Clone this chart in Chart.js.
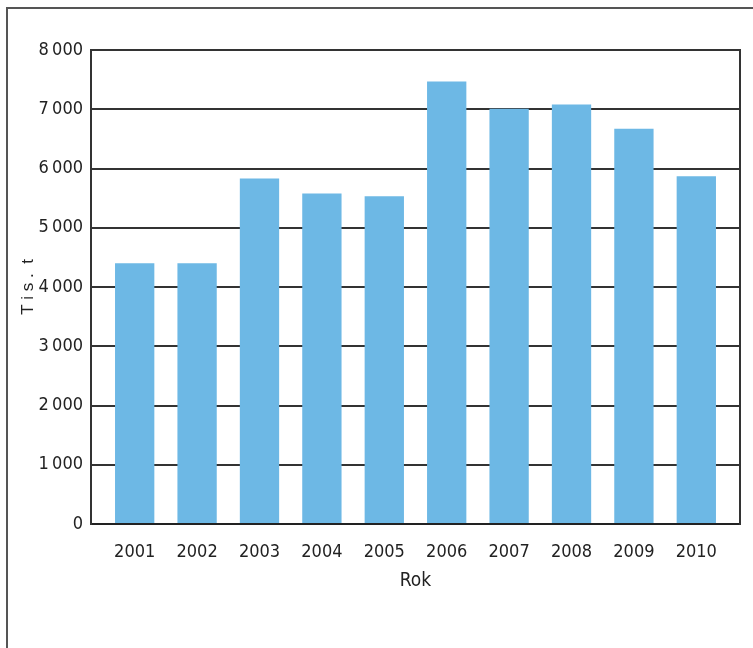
<!DOCTYPE html>
<html>
<head>
<meta charset="utf-8">
<script src="https://cdn.jsdelivr.net/npm/chart.js@4"></script>
<style>
    body { margin: 0; background: #fff; }
    #wrap { position: relative; width: 753px; height: 648px; overflow: hidden; }
    #frame {
        position: absolute; left: 6px; top: 7px; width: 760px; height: 700px;
        border-left: 2px solid #555; border-top: 2px solid #555;
        pointer-events: none;
    }
</style>
</head>
<body>
<div id="wrap">
    <canvas id="chart" width="753" height="648"></canvas>
    <div id="frame"></div>
</div>
<script>
const years = ['2001', '2002', '2003', '2004', '2005', '2006', '2007', '2008', '2009', '2010'];
const tonnes = [4400, 4400, 5830, 5580, 5530, 7470, 7010, 7080, 6670, 5870];
const yTicks = [0, 1000, 2000, 3000, 4000, 5000, 6000, 7000, 8000];

const font = "'Liberation Sans Narrow', 'Noto Sans Condensed', 'DejaVu Sans Condensed', sans-serif";
const ink = '#222';

function fmt(v) {
    return String(v).replace(/\B(?=(\d{3})+(?!\d))/g, '\u2009');
}

new Chart(document.getElementById('chart'), {
    type: 'bar',
    data: {
        datasets: [{
            label: 'Tis. t',
            data: years.map((y, i) => ({ x: Number(y), y: tonnes[i] })),
            backgroundColor: '#6db8e5',
            borderWidth: 0,
            categoryPercentage: 1,
            barPercentage: 0.63
        }]
    },
    options: {
        responsive: false,
        animation: false,
        layout: { padding: { left: 14, top: 50, right: 13, bottom: 52 } },
        plugins: { legend: { display: false }, tooltip: { enabled: false } },
        scales: {
            x: {
                type: 'linear',
                offset: false,
                min: 2000.3,
                max: 2010.7,
                afterBuildTicks: s => { s.ticks = years.map(y => ({ value: Number(y) })); },
                afterFit: s => { s.height = 72; },
                grid: { display: false, drawTicks: false },
                border: { display: true, color: ink, width: 2 },
                ticks: {
                    padding: 18,
                    color: ink,
                    font: { family: font, size: 18 },
                    callback: v => String(v)
                },
                title: {
                    display: true,
                    text: 'Rok',
                    color: ink,
                    font: { family: font, size: 19 }
                }
            },
            y: {
                min: 0,
                max: 8000,
                afterBuildTicks: s => { s.ticks = yTicks.map(v => ({ value: v })); },
                afterFit: s => { s.width = 77; },
                grid: { color: '#333', lineWidth: 2, drawTicks: false },
                border: { display: true, color: '#333', width: 2 },
                ticks: {
                    padding: 8,
                    color: ink,
                    font: { family: font, size: 18 },
                    callback: v => fmt(v)
                },
                title: {
                    display: true,
                    text: 'T i s .  t',
                    color: ink,
                    font: { family: "'Liberation Sans', sans-serif", size: 17 }
                }
            },
            yRight: {
                position: 'right',
                min: 0,
                max: 8000,
                afterFit: s => { s.width = 0; },
                grid: { display: false },
                border: { display: true, color: '#333', width: 2 },
                ticks: { display: false }
            }
        }
    }
});
</script>
</body>
</html>
